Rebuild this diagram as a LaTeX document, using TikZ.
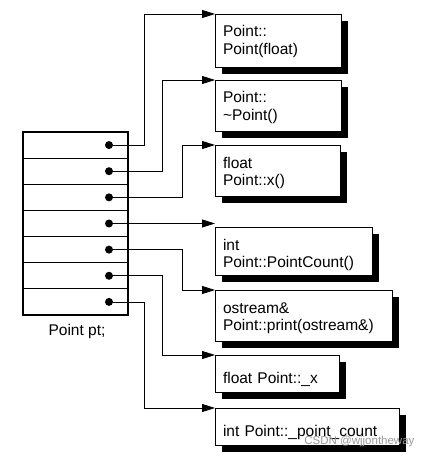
\documentclass[tikz,border=0pt]{standalone}
\usepackage{fontspec}
\setmainfont{Liberation Sans}
\usetikzlibrary{positioning,arrows.meta,shadows}

\tikzset{
  cell/.style={draw, line width=1.2pt, minimum width=105pt, minimum height=26.14pt, inner sep=0pt, outer sep=0pt},
  dot/.style={circle, fill=black, minimum size=8pt, inner sep=0pt},
  conn/.style={line width=0.8pt, -{Triangle[length=13pt,width=8pt]}},
  membox/.style={draw, fill=white, line width=0.9pt, anchor=north west,
    inner xsep=8pt, inner ysep=0pt, outer sep=0pt, align=left,
    drop shadow={shadow xshift=7pt, shadow yshift=-7pt, fill=black, opacity=1}},
  two/.style={text height=23pt, text depth=28pt},
  one/.style={text height=28pt, text depth=9pt},
}

\begin{document}
\begin{tikzpicture}[x=1pt, y=-1pt, font=\fontsize{15.5pt}{17.5pt}\selectfont]
  \useasboundingbox (0,0) rectangle (429,462);

  % the object pt: one slot per member
  \foreach \i in {1,...,7}{
    \node[cell] (c\i) at (75.5, 132+26.14*\i-13.07) {};
    \node[dot] (d\i) at (109, 132+26.14*\i-13.07) {};
  }
  \node[anchor=base] (lbl) at (77,335) {Point pt;};

  % members
  \node[membox, two, text depth=30pt, text width=110pt] (b1) at (215,14) {Point::\\Point(float)};
  \node[membox, two, text width=110pt] (b2) at (215,80) {Point::\\\~{}Point()};
  \node[membox, two, text width=109pt] (b3) at (215,145) {float\\Point::x()};
  \node[membox, two, text depth=25pt, text width=141pt] (b4) at (215,227) {int\\Point::PointCount()};
  \node[membox, two, text width=161pt] (b5) at (215,290) {ostream\&\\Point::print(ostream\&)};
  \node[membox, one, text width=108pt] (b6) at (215,355) {float Point::\_x};
  \node[membox, one, text width=168pt] (b7) at (215,408) {int Point::\_point\_count};

  % pointers
  \draw[conn] (d1) -| ([xshift=-71pt]b1.north west) -- (b1.north west);
  \draw[conn] (d2) -| ([xshift=-53pt]b2.north west) -- (b2.north west);
  \draw[conn] (d3) -| ([xshift=-33pt]b3.north west) -- (b3.north west);
  \draw[conn] (d4) -- (d4 -| b4.north west);
  \draw[conn] (d5) -| ([xshift=-33pt]b5.north west) -- (b5.north west);
  \draw[conn] (d6) -| ([xshift=-53pt]b6.north west) -- (b6.north west);
  \draw[conn] (d7) -| ([xshift=-71pt]b7.north west) -- (b7.north west);

  \node[anchor=base east, text=black!40, font=\fontsize{11.5pt}{13pt}\selectfont] (wm) at (418,444) {CSDN @wjjontheway};
\end{tikzpicture}
\end{document}
